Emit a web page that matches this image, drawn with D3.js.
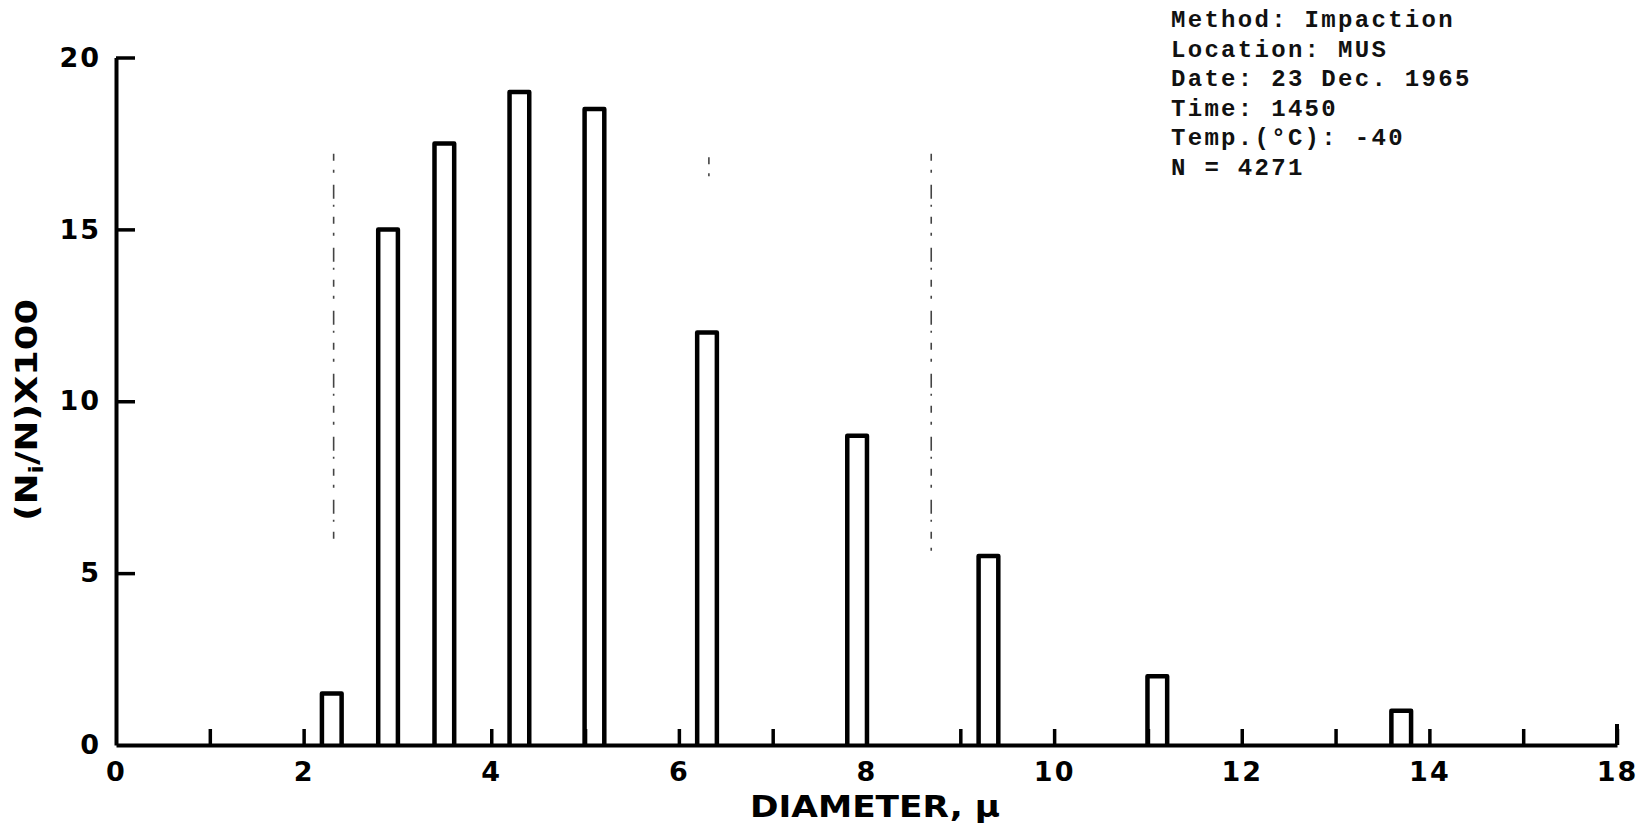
<!DOCTYPE html>
<html>
<head>
<meta charset="utf-8">
<script src="https://cdn.jsdelivr.net/npm/d3@7"></script>
<style>
  html, body { margin: 0; padding: 0; background: #fff; }
  svg { display: block; }
  .tick text { font-family: "DejaVu Sans", sans-serif; font-weight: bold; font-size: 27px; fill: #000; letter-spacing: 2px; }
  .axis path, .axis line { stroke: #000; }
</style>
</head>
<body>
<svg id="chart" width="1646" height="825"></svg>
<script>
// Droplet size classes (microns) and their share of the total count, in percent
const diameters = [2.3, 2.9, 3.5, 4.3, 5.1, 6.3, 7.9, 9.3, 11.1, 13.7];
const percents  = [1.5, 15, 17.5, 19, 18.5, 12, 9, 5.5, 2, 1];

// Axis ticks and their printed labels
const xTickValues = [0, 2, 4, 6, 8, 10, 12, 14, 16];
const xTickLabels = ["0", "2", "4", "6", "8", "10", "12", "14", "18"];
const xMinorTicks = d3.range(1, 17);
const yTickValues = [0, 5, 10, 15, 20];

// Sample information block
const infoLines = [
  "Method: Impaction",
  "Location: MUS",
  "Date: 23 Dec. 1965",
  "Time: 1450",
  "Temp.(\u00B0C): -40",
  "N = 4271"
];

// Faint broken vertical rules on the sheet (diameter, from %, to %)
const faintRules = [
  { d: 2.32, from: 5.8, to: 17.2 },
  { d: 6.32, from: 16.4, to: 17.1 },
  { d: 8.69, from: 5.4, to: 17.2 }
];

const svg = d3.select("#chart");
const x = d3.scaleLinear().domain([0, 16]).range([116, 1617]);
const y = d3.scaleLinear().domain([0, 20]).range([745, 57.5]);
const barHalf = 0.105;

// faint rules
svg.append("g")
  .selectAll("line")
  .data(faintRules)
  .join("line")
  .attr("x1", d => x(d.d)).attr("x2", d => x(d.d))
  .attr("y1", d => y(d.to)).attr("y2", d => y(d.from))
  .attr("stroke", "#444")
  .attr("stroke-width", 1.6)
  .attr("stroke-dasharray", "7 9 3 12 14 6 2 10");

// bars: open-bottomed outlines standing on the axis
svg.append("g")
  .selectAll("path")
  .data(diameters.map((d, i) => ({ d, v: percents[i] })))
  .join("path")
  .attr("d", p => `M${x(p.d - barHalf)},${y(0)}V${y(p.v)}H${x(p.d + barHalf)}V${y(0)}`)
  .attr("fill", "#fff")
  .attr("stroke", "#000")
  .attr("stroke-width", 4.5)
  .attr("stroke-linejoin", "round");

// x axis: minor ticks at every micron
svg.append("g")
  .attr("class", "axis")
  .attr("transform", `translate(0,${y(0)})`)
  .call(d3.axisBottom(x).tickValues(xMinorTicks).tickSize(-16).tickSizeOuter(0).tickFormat(""))
  .call(g => g.select(".domain").attr("stroke-width", 4))
  .call(g => g.selectAll(".tick line").attr("stroke-width", 3.5));

// x axis labels
svg.append("g")
  .attr("class", "axis")
  .attr("transform", `translate(0,${y(0)})`)
  .call(d3.axisBottom(x).tickValues(xTickValues).tickSize(0).tickPadding(17)
    .tickFormat((d, i) => xTickLabels[i]))
  .call(g => g.select(".domain").remove());

// end tick at the right edge
svg.append("line")
  .attr("x1", x(16)).attr("x2", x(16))
  .attr("y1", y(0)).attr("y2", y(0) - 21)
  .attr("stroke", "#000").attr("stroke-width", 4);

// y axis with ticks pointing into the plot
svg.append("g")
  .attr("class", "axis")
  .attr("transform", `translate(${x(0)},0)`)
  .call(d3.axisLeft(y).tickValues(yTickValues).tickSize(-19).tickSizeOuter(0).tickPadding(15))
  .call(g => g.select(".domain").attr("stroke-width", 4))
  .call(g => g.selectAll(".tick line").attr("stroke-width", 3.5))
  .call(g => g.selectAll(".tick").filter(d => d === 0).select("line").remove());

// axis titles
svg.append("text")
  .attr("x", 875).attr("y", 817)
  .attr("text-anchor", "middle")
  .attr("font-family", "DejaVu Sans, sans-serif")
  .attr("font-weight", "bold")
  .attr("font-size", 30)
  .attr("textLength", 250)
  .attr("lengthAdjust", "spacingAndGlyphs")
  .text("DIAMETER, \u00B5");

const yTitle = svg.append("text")
  .attr("transform", "translate(37,410) rotate(-90)")
  .attr("text-anchor", "middle")
  .attr("font-family", "DejaVu Sans, sans-serif")
  .attr("font-weight", "bold")
  .attr("font-size", 30)
  .attr("textLength", 222)
  .attr("lengthAdjust", "spacingAndGlyphs");
yTitle.append("tspan").text("(N");
yTitle.append("tspan").attr("font-size", 20).attr("dy", 6).text("i");
yTitle.append("tspan").attr("dy", -6).text("/N)X100");

// sample information
svg.append("g")
  .selectAll("text")
  .data(infoLines)
  .join("text")
  .attr("x", 1171)
  .attr("y", (d, i) => 27 + i * 29.5)
  .attr("font-family", "Liberation Mono, Courier New, monospace")
  .attr("font-weight", "bold")
  .attr("font-size", 24)
  .attr("letter-spacing", "2.3px")
  .attr("fill", "#111")
  .text(d => d);
</script>
</body>
</html>
